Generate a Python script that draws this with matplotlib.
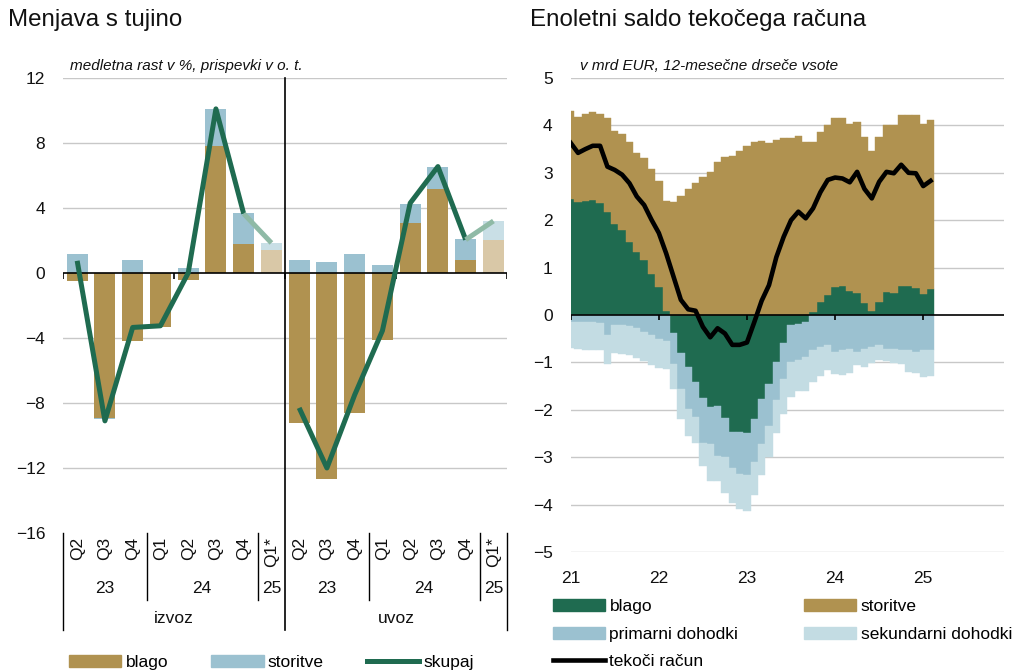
import numpy as np
import matplotlib
matplotlib.use('Agg')
import matplotlib.pyplot as plt
import matplotlib.transforms as mtransforms
from matplotlib.patches import Patch
from matplotlib.lines import Line2D

plt.rcParams['font.family'] = ['Liberation Sans', 'DejaVu Sans']
plt.rcParams['axes.unicode_minus'] = True

# --- left chart data: medletna rast v %, prispevki v o. t. ---
quarters = ['Q2', 'Q3', 'Q4', 'Q1', 'Q2', 'Q3', 'Q4', 'Q1*']
years = ['23', '24', '25']
groups = ['izvoz', 'uvoz']
izvoz_blago = [-0.5, -8.9, -4.2, -3.3, -0.4, 7.8, 1.8, 1.4]
izvoz_storitve = [1.2, -0.1, 0.8, 0.0, 0.3, 2.3, 1.9, 0.45]
izvoz_skupaj = [0.75, -9.1, -3.35, -3.25, 0.0, 10.1, 3.65, 1.85]
uvoz_blago = [-9.2, -12.7, -8.6, -4.1, 3.05, 5.15, 0.82, 2.06]
uvoz_storitve = [0.82, 0.7, 1.18, 0.52, 1.22, 1.39, 1.28, 1.12]
uvoz_skupaj = [-8.3, -12.0, -7.5, -3.55, 4.3, 6.55, 2.05, 3.2]

# --- right chart data: v mrd EUR, 12-mesecne drsece vsote, jan 2021 - feb 2025 ---
year_labels = ['21', '22', '23', '24', '25']
ca_blago = [2.45, 2.38, 2.41, 2.43, 2.37, 2.18, 1.93, 1.79, 1.54, 1.33, 1.17, 0.87, 0.59, 0.09,
            -0.39, -0.80, -1.09, -1.41, -1.75, -1.94, -1.91, -2.18, -2.46, -2.46, -2.48, -2.19,
            -1.77, -1.45, -0.99, -0.60, -0.21, -0.18, -0.14,
            0.06, 0.27, 0.42, 0.60, 0.62, 0.51, 0.47, 0.25, 0.08, 0.27, 0.49, 0.46, 0.61, 0.61,
            0.58, 0.44, 0.54]
ca_storitve = [1.85, 1.80, 1.84, 1.85, 1.88, 1.97, 1.95, 2.03, 2.10, 2.09, 2.15, 2.21, 2.24, 2.31,
               2.38, 2.51, 2.66, 2.78, 2.91, 3.02, 3.22, 3.33, 3.36, 3.46, 3.56, 3.64,
               3.68, 3.63, 3.70, 3.73, 3.73, 3.78, 3.64,
               3.60, 3.60, 3.59, 3.56, 3.54, 3.51, 3.60, 3.50, 3.39, 3.48, 3.51, 3.54, 3.60, 3.60,
               3.64, 3.58, 3.58]
ca_primarni = [-0.15, -0.15, -0.15, -0.15, -0.16, -0.42, -0.22, -0.22, -0.24, -0.28, -0.35, -0.42, -0.50, -0.55,
               -0.64, -0.76, -0.89, -0.75, -0.94, -0.78, -1.06, -0.82, -0.76, -0.90, -0.90, -0.92,
               -0.95, -0.90, -0.81, -0.74, -0.78, -0.76, -0.74,
               -0.74, -0.67, -0.64, -0.78, -0.74, -0.71, -0.78, -0.71, -0.67, -0.64, -0.71, -0.72,
               -0.74, -0.74, -0.78, -0.74, -0.74]
ca_sekundarni = [-0.55, -0.57, -0.59, -0.59, -0.57, -0.61, -0.58, -0.60, -0.60, -0.62, -0.61, -0.63, -0.62, -0.58,
                 -0.53, -0.63, -0.57, -0.53, -0.49, -0.78, -0.53, -0.75, -0.74, -0.74, -0.76, -0.69,
                 -0.66, -0.65, -0.68, -0.74, -0.74, -0.66, -0.72,
                 -0.67, -0.61, -0.52, -0.47, -0.53, -0.51, -0.27, -0.38, -0.34, -0.30, -0.27, -0.29,
                 -0.30, -0.47, -0.45, -0.56, -0.55]
ca_tekoci = [3.63, 3.42, 3.50, 3.57, 3.57, 3.13, 3.06, 2.96, 2.78, 2.50, 2.32, 2.01, 1.73, 1.30,
             0.81, 0.32, 0.12, 0.09, -0.25, -0.47, -0.28, -0.39, -0.63, -0.63, -0.58, -0.15,
             0.30, 0.63, 1.22, 1.65, 2.00, 2.18, 2.04,
             2.25, 2.59, 2.85, 2.90, 2.88, 2.80, 3.02, 2.66, 2.46, 2.81, 3.02, 2.99, 3.17, 3.00,
             2.99, 2.72, 2.83]

GOLD = '#B09250'
BLUE = '#9BC1D0'
GREEN = '#1F6B50'
PALE = '#C3DCE3'
GOLD_F = '#D9C8A7'
BLUE_F = '#C9DFE6'
GREEN_F = '#8FBAA6'
GRID = '#C8C8C8'
TXT = '#111111'
FS = 12.5
TITLE_FS = 17.4

W, H = 1016, 672


def minus(v):
    return str(v).replace('-', '\u2212')


def stack_bottoms(series):
    pos = np.zeros(len(series[0]))
    neg = np.zeros(len(series[0]))
    out = []
    for s in series:
        s = np.asarray(s, dtype=float)
        out.append(np.where(s >= 0, pos, neg))
        pos = pos + np.clip(s, 0, None)
        neg = neg + np.clip(s, None, 0)
    return out


fig = plt.figure(figsize=(W / 100, H / 100), dpi=100)

# ================= left chart =================
ax1 = fig.add_axes([63.3 / W, 1 - 533 / H, 444 / W, 455 / H])
n = len(quarters) * 2
x = np.arange(n)
blago = np.array(izvoz_blago + uvoz_blago)
storitve = np.array(izvoz_storitve + uvoz_storitve)
b_bl, b_st = stack_bottoms([blago, storitve])
last = [len(quarters) - 1, n - 1]
col_bl = [GOLD_F if i in last else GOLD for i in x]
col_st = [BLUE_F if i in last else BLUE for i in x]
ax1.bar(x, blago, bottom=b_bl, width=0.76, color=col_bl, linewidth=0, zorder=2)
ax1.bar(x, storitve, bottom=b_st, width=0.76, color=col_st, linewidth=0, zorder=2)

k = len(quarters)
for g, sk in enumerate([izvoz_skupaj, uvoz_skupaj]):
    xs = x[g * k:(g + 1) * k]
    ax1.plot(xs[:-1], sk[:-1], color=GREEN, lw=3.6, zorder=5, solid_joinstyle='round',
             solid_capstyle='butt')
    ax1.plot(xs[-2:], sk[-2:], color=GREEN_F, lw=3.6, zorder=5, solid_capstyle='butt')

ax1.set_xlim(-0.5, n - 0.5)
ax1.set_ylim(-16, 12)
yt = list(range(-16, 13, 4))
ax1.set_yticks(yt)
ax1.set_yticklabels([minus(v) for v in yt])
for v in yt:
    if v not in (0, -16):
        ax1.axhline(v, color=GRID, lw=1.0, zorder=0)
ax1.axhline(0, color='black', lw=1.2, zorder=4)
ax1.vlines([-0.5, 3.5, 7.5, 11.5, 15.5], 0, -0.35, color='black', lw=1.2, zorder=4)
ax1.set_xticks(x)
ax1.set_xticklabels(quarters * 2, rotation=90)
ax1.tick_params(axis='x', length=0, pad=3, labelsize=FS, colors=TXT)
ax1.tick_params(axis='y', length=0, pad=13, labelsize=FS, colors=TXT)
for s in ax1.spines.values():
    s.set_visible(False)

tr = mtransforms.blended_transform_factory(ax1.transData, ax1.transAxes)
for xb in [2.5, 6.5, 10.5, 14.5]:
    ax1.plot([xb, xb], [0, -0.147], transform=tr, color='black', lw=1.0, clip_on=False)
for xb in [-0.5, 15.5]:
    ax1.plot([xb, xb], [0, -0.213], transform=tr, color='black', lw=1.0, clip_on=False)
ax1.plot([7.5, 7.5], [1, -0.213], transform=tr, color='black', lw=1.2, clip_on=False, zorder=6)
for g in range(2):
    off = g * k
    for yl, xc in zip(years, [1, 4.5, 7]):
        ax1.text(off + xc, -0.121, yl, transform=tr, ha='center', va='center', fontsize=FS, color=TXT)
    ax1.text(off + 3.5, -0.189, groups[g], transform=tr, ha='center', va='center', fontsize=FS, color=TXT)

fig.text(8 / W, 1 - 20 / H, 'Menjava s tujino', fontsize=TITLE_FS, ha='left', va='center', color=TXT)
fig.text(70 / W, 1 - 66 / H, 'medletna rast v %, prispevki v o. t.', fontsize=11, style='italic',
         ha='left', va='center', color=TXT)

h1 = [Patch(color=GOLD), Patch(color=BLUE), Line2D([], [], color=GREEN, lw=3.6)]
fig.legend(h1, ['blago', 'storitve', 'skupaj'], loc='upper left',
           bbox_to_anchor=(69 / W, 1 - 655 / H), ncol=3, frameon=False, fontsize=FS,
           handlelength=3.0, handletextpad=0.25, columnspacing=2.5, borderpad=0,
           borderaxespad=0)

# ================= right chart =================
ax2 = fig.add_axes([570.7 / W, 1 - 552 / H, (1004 - 570.7) / W, 474 / H])
months = np.arange(len(ca_blago))
comps = [ca_blago, ca_storitve, ca_primarni, ca_sekundarni]
cols = [GREEN, GOLD, BLUE, PALE]
for vals, bot, c in zip(comps, stack_bottoms(comps), cols):
    ax2.bar(months, vals, bottom=bot, width=1.0, color=c, edgecolor=c, linewidth=0.3, zorder=2)
ax2.plot(months, ca_tekoci, color='black', lw=3.3, zorder=5, solid_joinstyle='round')

ax2.set_xlim(0, 59)
ax2.set_ylim(-5, 5)
yt2 = list(range(-5, 6))
ax2.set_yticks(yt2)
ax2.set_yticklabels([minus(v) for v in yt2])
for v in yt2:
    if v != 0:
        ax2.axhline(v, color=GRID, lw=1.0, zorder=0)
ax2.axhline(0, color='black', lw=1.2, zorder=4)
xt2 = months[::12]
ax2.vlines(xt2, 0, -0.11, color='black', lw=1.2, zorder=4)
ax2.set_xticks(xt2)
ax2.set_xticklabels(year_labels)
ax2.tick_params(axis='x', length=0, pad=14, labelsize=FS, colors=TXT)
ax2.tick_params(axis='y', length=0, pad=13, labelsize=FS, colors=TXT)
for s in ax2.spines.values():
    s.set_visible(False)

fig.text(530 / W, 1 - 20 / H, 'Enoletni saldo teko\u010dega ra\u010duna', fontsize=TITLE_FS, ha='left',
         va='center', color=TXT)
fig.text(580 / W, 1 - 66 / H, 'v mrd EUR, 12-mese\u010dne drse\u010de vsote', fontsize=11, style='italic',
         ha='left', va='center', color=TXT)

h2 = [Patch(color=GREEN), Patch(color=BLUE), Line2D([], [], color='black', lw=3.3),
      Patch(color=GOLD), Patch(color=PALE)]
l2 = ['blago', 'primarni dohodki', 'teko\u010di ra\u010dun', 'storitve', 'sekundarni dohodki']
fig.legend(h2, l2, loc='upper left', bbox_to_anchor=(553 / W, 1 - 599 / H), ncol=2, frameon=False,
           fontsize=FS, handlelength=3.0, handletextpad=0.25, columnspacing=3.8, labelspacing=0.72,
           borderpad=0, borderaxespad=0)

fig.savefig('out.png', dpi=100)
